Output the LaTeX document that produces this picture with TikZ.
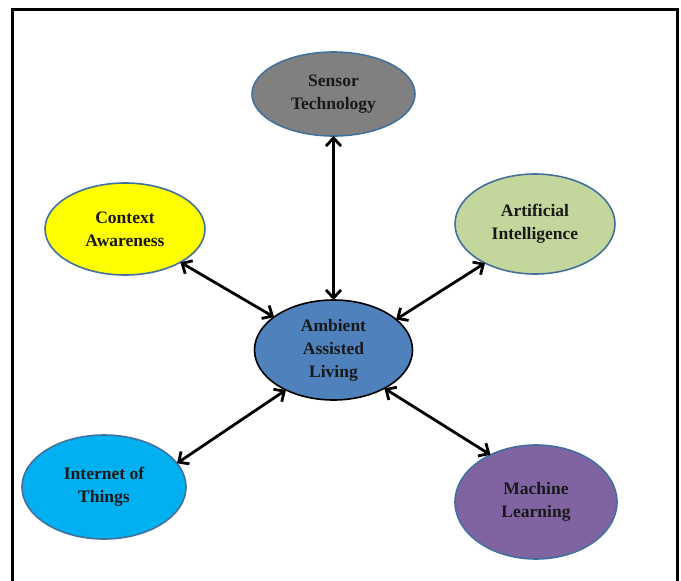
\documentclass[tikz,border=0pt]{standalone}
\usepackage{fontspec}
\setmainfont{Liberation Serif}
\usetikzlibrary{shapes.geometric,arrows.meta}
\definecolor{edgeblue}{HTML}{41719C}
\definecolor{sensorgray}{HTML}{808080}
\definecolor{aigreen}{HTML}{C3D69B}
\definecolor{ctxyellow}{HTML}{FFFF00}
\definecolor{aalblue}{HTML}{4F81BD}
\definecolor{iotblue}{HTML}{00B0F0}
\definecolor{mlpurple}{HTML}{8064A2}
\tikzset{
  topic/.style={ellipse, draw=edgeblue, line width=1.6pt, inner sep=0pt, outer sep=0pt,
    align=center, font=\fontsize{17.5}{23}\selectfont\bfseries, text=black!90},
  link/.style={line width=2.8pt, {Straight Barb[length=8pt,width=15pt]}-{Straight Barb[length=8pt,width=15pt]}}
}
\begin{document}
\begin{tikzpicture}[x=1pt,y=-1pt]
\useasboundingbox (0,0) rectangle (681,581);
\draw[line width=3pt] (12,590) -- (12,9) -- (677,9) -- (677,590);
\node[topic, fill=sensorgray, minimum width=163pt, minimum height=84pt] (sensor) at (333.5,94) {Sensor\\Technology};
\node[topic, fill=aigreen, minimum width=160pt, minimum height=100pt] (ai) at (535,224) {Artificial\\Intelligence};
\node[topic, fill=ctxyellow, minimum width=160pt, minimum height=92pt] (ctx) at (125,229) {Context\\Awareness};
\node[topic, draw=black, fill=aalblue, minimum width=158pt, minimum height=100pt] (aal) at (333.5,350) {Ambient\\Assisted\\Living};
\node[topic, fill=iotblue, minimum width=164pt, minimum height=104pt] (iot) at (104,487) {Internet of\\Things};
\node[topic, fill=mlpurple, minimum width=162pt, minimum height=114pt] (ml) at (536,502) {Machine\\Learning};
\draw[link] (sensor.south) -- (aal.north);
\draw[link] (ctx.-31) -- (aal.151);
\draw[link] (ai.218) -- (aal.26);
\draw[link] (iot.18) -- (aal.220);
\draw[link] (ml.134) -- (aal.-37);
\end{tikzpicture}
\end{document}
